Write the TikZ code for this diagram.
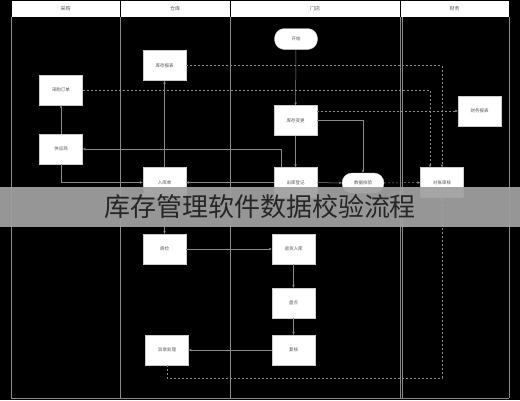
\documentclass[tikz,border=0pt]{standalone}
\usepackage{fontspec}
\setmainfont{Noto Sans CJK SC}
\usetikzlibrary{arrows.meta}
\definecolor{linegray}{HTML}{8A8A8A}
\definecolor{bandgray}{HTML}{A0A0A0}
\definecolor{textgray}{HTML}{555555}
\tikzset{
	lane/.style={draw=linegray, line width=0.5pt},
	header/.style={fill=white, inner sep=0pt, minimum height=16pt, text=textgray, font=\fontsize{5}{6}\selectfont},
	box/.style={draw=gray!40, fill=white, inner sep=0pt, minimum width=43pt, minimum height=30pt, text=textgray, font=\fontsize{4.5}{5}\selectfont},
	roundbox/.style={box, rounded corners=10pt, minimum height=21pt},
	link/.style={draw=linegray, line width=0.5pt, -{Stealth[length=3pt,width=2.5pt]}},
	dlink/.style={link, dash pattern=on 2pt off 2pt},
}
\begin{document}
\begin{tikzpicture}[x=1pt, y=-1pt]
		%%%%% START %%%%%
		
		\fill[black] (0, 0) rectangle (520, 400);
		\useasboundingbox (0, 0) rectangle (520, 400);
		
		\node[header, minimum width=108pt] (h1) at (65.5, 9) {采购};
		\node[header, minimum width=109pt] (h2) at (175, 9) {仓库};
		\node[header, minimum width=169pt] (h3) at (315, 9) {门店};
		\node[header, minimum width=108pt] (h4) at (454.5, 9) {财务};
		
		\foreach \x in {11, 120, 230, 400, 509}
			\draw[lane] (\x, 17) -- (\x, 398);
		\draw[lane] (402, 17) -- (402, 398);
		\draw[lane] (11, 398) -- (509, 398);
		
		\node[roundbox] (start) at (296, 39) {开始};
		\node[box] (report) at (164.5, 65.5) {库存报表};
		\node[box] (order) at (61, 90) {采购订单};
		\node[box] (supplier) at (61, 149) {供应商};
		\node[box] (change) at (295.5, 120.5) {库存变更};
		\node[box] (finance) at (479.5, 111) {财务报表};
		
		\node[box] (receipt) at (164.5, 182.5) {入库单};
		\node[box] (outbound) at (295.5, 182.5) {出库登记};
		\node[roundbox, minimum width=42pt, minimum height=20pt] (check) at (363, 183) {数据校验};
		\node[box] (audit) at (442, 182.5) {对账审核};
		
		\node[box] (inspect) at (164.5, 249) {质检};
		\node[box] (returns) at (293.5, 249) {退货入库};
		\node[box] (count) at (293.5, 303) {盘点};
		\node[box] (recheck) at (293.5, 350) {复核};
		\node[box] (issue) at (167, 350) {异常处理};
		
		\draw[link] (start) -- (change);
		\draw[link] (change) -- (outbound);
		\draw[link] (change.east) -| (check.north);
		\draw[link] (outbound) -- (check);
		\draw[dlink] (check) -- (audit);
		\draw[link] (receipt) -- (report);
		\draw[link] (supplier) -- (order);
		\draw[link] (supplier.south) |- (receipt.west);
		\draw[link] ([xshift=-14.5pt]outbound.north) |- (supplier.east);
		\draw[link] (outbound) -- (receipt);
		\draw[link] (receipt) -- (inspect);
		\draw[link] (inspect) -- (returns);
		\draw[link] (returns) -- (count);
		\draw[link] (count) -- (recheck);
		\draw[link] (recheck) -- (issue);
		
		\draw[dlink] (issue.south) -- ++(0, 13) -| (audit.south);
		\draw[dlink] (report.east) -| (audit.north);
		\draw[dlink] (order.east) -| ([xshift=-12pt]audit.north);
		\draw[dlink] (change.east |- finance.west) -- (finance.west);
		
		\fill[bandgray, opacity=0.94] (0, 187) rectangle (520, 227);
		\node[text=black!85, font=\fontsize{26}{28}\selectfont, inner sep=0pt] (title) at (260, 207) {库存管理软件数据校验流程};
		
		%%%%% END %%%%%
	\end{tikzpicture}
\end{document}
